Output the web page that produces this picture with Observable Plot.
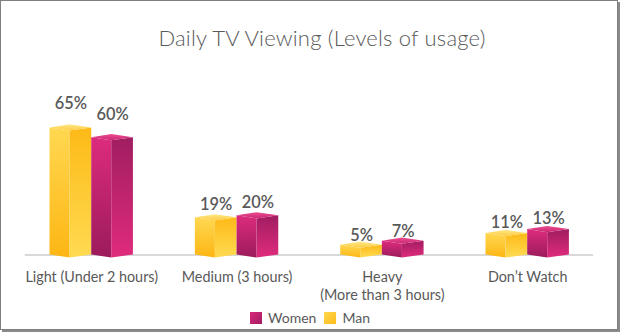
<!DOCTYPE html>
<html>
<head>
<meta charset="utf-8">
<script src="https://cdn.jsdelivr.net/npm/d3@7"></script>
<script src="https://cdn.jsdelivr.net/npm/@observablehq/plot@0.6"></script>
<style>
  html, body { margin: 0; padding: 0; background: #fff; }
  #frame {
    position: absolute; left: 0; top: 0; width: 616px; height: 328px;
    border: 1px solid #7f7f7f; box-shadow: 2px 2px 0 #8a8a8a; background: #fff;
    font-family: Lato, "Open Sans", sans-serif; color: #595959;
  }
  #title {
    position: absolute; left: 10px; top: 23px; width: 622px; text-align: center;
    font-size: 22px; line-height: 28px; font-weight: 300; color: #595959; letter-spacing: 0.2px;
  }
  #chart { position: absolute; left: -1px; top: 59px; }
  #legend {
    position: absolute; left: -2px; top: 308px; width: 622px;
    display: flex; justify-content: center; align-items: center;
    font-size: 14px; color: #595959;
  }
  .item { display: flex; align-items: center; margin: 0 4px; }
  .sw { width: 12px; height: 12px; margin-right: 6px; }
</style>
</head>
<body>
<div id="frame">
  <div id="title">Daily TV Viewing (Levels of usage)</div>
  <div id="chart"></div>
  <div id="legend"></div>
</div>
<script>
const categories = ["Light (Under 2 hours)", "Medium (3 hours)", "Heavy\n(More than 3 hours)", "Don’t Watch"];
const seriesNames = ["Man", "Women"];
const man = [65, 19, 5, 11];
const women = [60, 20, 7, 13];

// geometry (style) constants in scale units
const barW = 0.287;   // width of one box in category units
const cornerFrac = 0.48;
const depth = 1.6;    // vertical skew of box edges, in value units

const values = { Man: man, Women: women };
const faces = [];
categories.forEach((c, i) => {
  seriesNames.forEach((s, k) => {
    const v = values[s][i];
    const x1 = i - barW + k * barW, x2 = x1 + barW, xc = x1 + barW * cornerFrac;
    const key = s + i;
    faces.push({ series: s, face: "left", key, x: x1, y1: 0, y2: v });
    faces.push({ series: s, face: "left", key, x: xc, y1: -depth, y2: v - depth });
    faces.push({ series: s, face: "right", key, x: xc, y1: -depth, y2: v - depth });
    faces.push({ series: s, face: "right", key, x: x2, y1: 0, y2: v });
    faces.push({ series: s, face: "top", key, x: x1, y1: v, y2: v });
    faces.push({ series: s, face: "top", key, x: xc, y1: v - depth, y2: v + depth });
    faces.push({ series: s, face: "top", key, x: x2, y1: v, y2: v });
  });
});

const labels = [];
categories.forEach((c, i) => {
  seriesNames.forEach((s, k) => {
    const v = values[s][i];
    labels.push({ x: i - barW / 2 + k * barW, v, text: v + "%" });
  });
});

const faceMarks = [];
seriesNames.forEach(s => {
  ["left", "right", "top"].forEach(f => {
    faceMarks.push(Plot.areaY(faces.filter(d => d.series === s && d.face === f), {
      x: "x", y1: "y1", y2: "y2", z: "key", curve: "linear",
      fill: `url(#g-${s}-${f})`
    }));
  });
});

const chart = Plot.plot({
  width: 622,
  height: 245,
  marginLeft: 25,
  marginRight: 24,
  marginTop: 38.4,
  marginBottom: 49,
  style: { fontFamily: "Lato, 'Open Sans', sans-serif", color: "#595959", background: "transparent", overflow: "visible" },
  x: { type: "linear", domain: [-0.457, 3.454] },
  y: { domain: [0, 80], axis: null },
  marks: [
    Plot.ruleY([0], { stroke: "#d9d9d9", strokeWidth: 2 }),
    ...faceMarks,
    Plot.text(labels, {
      x: "x", y: d => d.v * 1.127 + 4.06, text: "text",
      fontSize: 16.5, fontWeight: 600, fill: "#595959"
    }),
    Plot.axisX({
      ticks: [0, 1, 2, 3], tickFormat: i => categories[i], tickSize: 0, tickPadding: 14,
      fontSize: 14.5, lineHeight: 1.25, fill: "#595959", label: null
    })
  ]
});

const defs = d3.select(chart).insert("defs", ":first-child");
const grads = {
  "Man-left": ["#ffd851", "#fdb614"],
  "Man-right": ["#fdba17", "#ffda52"],
  "Man-top": ["#ffe88a", "#fdcc40"],
  "Women-left": ["#dd2b7d", "#9c1b5d"],
  "Women-right": ["#a01d61", "#e02b7d"],
  "Women-top": ["#ea4f91", "#cc2673"]
};
Object.entries(grads).forEach(([id, [c0, c1]]) => {
  const g = defs.append("linearGradient").attr("id", "g-" + id)
    .attr("x1", 0).attr("y1", 0).attr("x2", 0).attr("y2", 1);
  g.append("stop").attr("offset", "0%").attr("stop-color", c0);
  g.append("stop").attr("offset", "100%").attr("stop-color", c1);
});

document.getElementById("chart").appendChild(chart);

const legendItems = [["Women", "linear-gradient(135deg,#d9287a,#a31d62)"], ["Man", "linear-gradient(135deg,#ffd84f,#fdbb1c)"]];
const legend = document.getElementById("legend");
legendItems.forEach(([name, bg]) => {
  const it = document.createElement("div");
  it.className = "item";
  it.innerHTML = `<div class="sw" style="background:${bg}"></div><span>${name}</span>`;
  legend.appendChild(it);
});
</script>
</body>
</html>
